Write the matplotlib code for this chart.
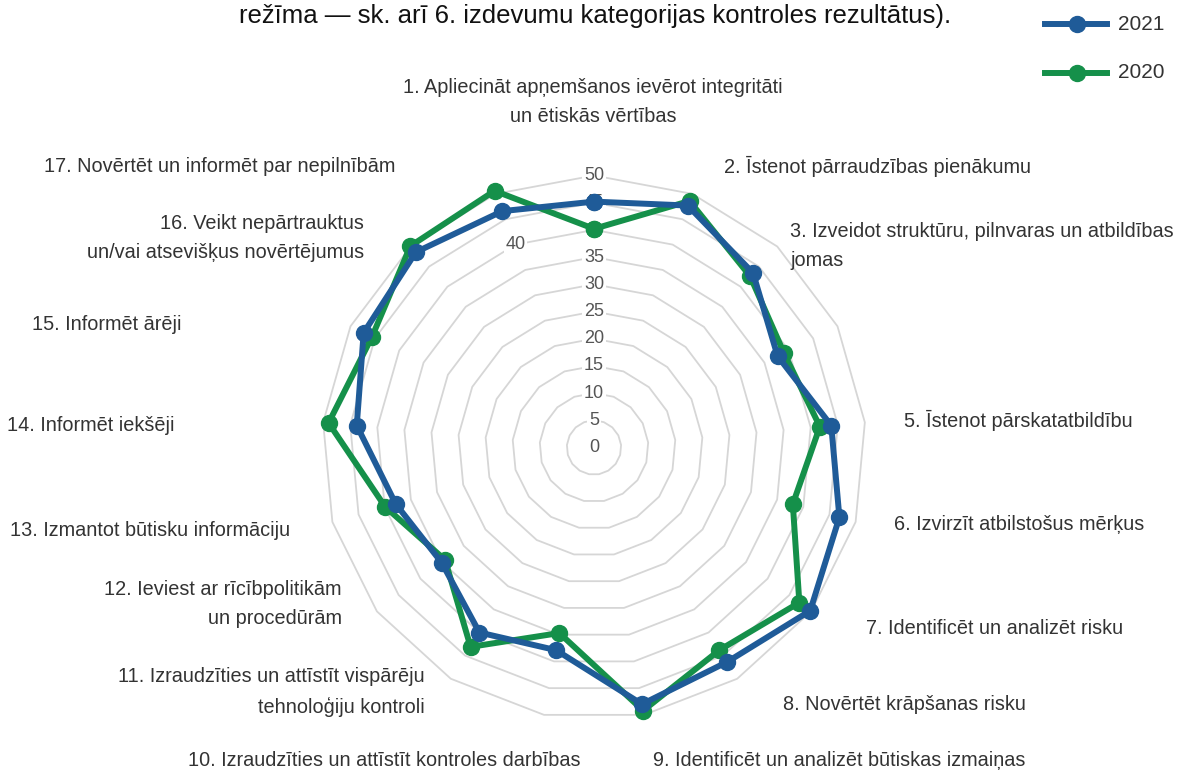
import matplotlib
matplotlib.use("Agg")
import matplotlib.pyplot as plt
from matplotlib.lines import Line2D
import numpy as np

# categories (label 4 is not shown on the chart)
labels = [
    "1. Apliecināt apņemšanos ievērot integritāti\nun ētiskās vērtības",
    "2. Īstenot pārraudzības pienākumu",
    "3. Izveidot struktūru, pilnvaras un atbildības\njomas",
    "",
    "5. Īstenot pārskatatbildību",
    "6. Izvirzīt atbilstošus mērķus",
    "7. Identificēt un analizēt risku",
    "8. Novērtēt krāpšanas risku",
    "9. Identificēt un analizēt būtiskas izmaiņas",
    "10. Izraudzīties un attīstīt kontroles darbības",
    "11. Izraudzīties un attīstīt vispārēju\ntehnoloģiju kontroli",
    "12. Ieviest ar rīcībpolitikām\nun procedūrām",
    "13. Izmantot būtisku informāciju",
    "14. Informēt iekšēji",
    "15. Informēt ārēji",
    "16. Veikt nepārtrauktus\nun/vai atsevišķus novērtējumus",
    "17. Novērtēt un informēt par nepilnībām",
]
vals_2021 = [45.2, 47.7, 43.4, 37.7, 43.8, 46.9, 49.8, 46.4, 48.0,
             37.9, 40.0, 35.1, 37.9, 43.8, 47.3, 48.6, 46.6]
vals_2020 = [40.2, 48.6, 42.6, 39.0, 41.7, 38.0, 47.3, 43.8, 49.2,
             34.7, 43.1, 34.3, 39.9, 49.0, 45.6, 50.1, 50.6]
ticks = [0, 5, 10, 15, 20, 25, 30, 35, 40, 45, 50]
title = "režīma — sk. arī 6. izdevumu kategorijas kontroles rezultātus)."

BLUE = "#1f5b98"
GREEN = "#15904a"
GRID = "#d6d6d6"
TXT = "#333333"
FONT = ["Liberation Sans", "DejaVu Sans"]

W, H = 1178, 774
cx, cy = 594, 447.5   # chart centre in pixels
k = 5.44              # pixels per unit

fig = plt.figure(figsize=(W / 100, H / 100), dpi=100)
ax = fig.add_axes([0, 0, 1, 1])
ax.set_xlim(-cx / k, (W - cx) / k)
ax.set_ylim(-(H - cy) / k, cy / k)
ax.axis("off")

n = len(labels)
ang = np.arange(n) * 2 * np.pi / n
ang_c = np.append(ang, ang[0])

# polygon grid
for r in ticks[1:]:
    ax.plot(r * np.sin(ang_c), r * np.cos(ang_c), color=GRID, lw=1.3, zorder=1)

# tick labels (40 sits on the 17th spoke in the original)
for t in ticks:
    a = ang[-1] if t == 40 else 0.0
    ax.text(t * np.sin(a), t * np.cos(a), str(t), ha="center", va="center",
            fontsize=13, color="#555555", family=FONT, zorder=2,
            bbox=dict(boxstyle="square,pad=0.1", fc="white", ec="none"))

# data
for vals, col, z in [(vals_2020, GREEN, 3), (vals_2021, BLUE, 4)]:
    v = np.append(vals, vals[0])
    ax.plot(v * np.sin(ang_c), v * np.cos(ang_c), color=col, lw=4.3,
            marker="o", ms=11.5, zorder=z, solid_joinstyle="round")

# point labels: pixel anchor, alignment
lab_pos = [
    (593, 102, "center"), (724, 166, "left"), (790, 246, "left"), (0, 0, "left"),
    (904, 420, "left"), (894, 525, "left"), (866, 629, "left"), (783, 705, "left"),
    (653, 760, "left"), (580, 760, "right"), (425, 692, "right"), (342, 604, "right"),
    (290, 530, "right"), (175, 425, "right"), (182, 325, "right"), (364, 238, "right"),
    (395, 166, "right"),
]
for lab, (px, py, ha) in zip(labels, lab_pos):
    if not lab:
        continue
    fig.text(px / W, 1 - py / H, lab, ha=ha, va="center", multialignment=ha,
             fontsize=14.3, color=TXT, family=FONT, linespacing=1.7)

# title (last line of a longer title in the original)
fig.text(595 / W, 1 - 23 / H, title, ha="center", va="baseline", fontsize=18.5,
         color="#111111", family=FONT)

# legend
for i, (name, col) in enumerate([("2021", BLUE), ("2020", GREEN)]):
    yy = 1 - (24 + 49 * i) / H
    fig.add_artist(Line2D([1045 / W, 1107 / W], [yy, yy], color=col, lw=4.3,
                          transform=fig.transFigure))
    fig.add_artist(Line2D([1077 / W], [yy], color=col, marker="o", ms=11.5,
                          transform=fig.transFigure))
    fig.text(1118 / W, yy, name, ha="left", va="center", fontsize=15,
             color=TXT, family=FONT)

fig.savefig("out.png", dpi=100)
